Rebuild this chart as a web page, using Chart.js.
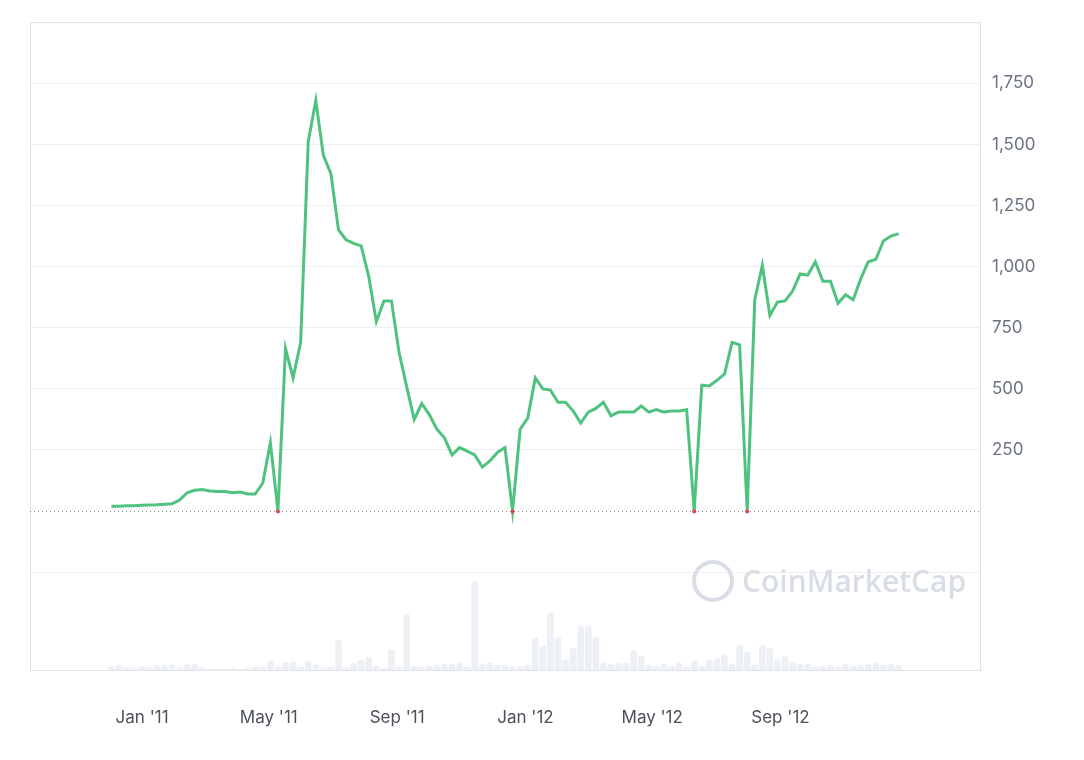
<!DOCTYPE html>
<html><head><meta charset="utf-8">
<script src="https://cdn.jsdelivr.net/npm/chart.js@4/dist/chart.umd.min.js"></script>
<style>html,body{margin:0;padding:0;background:#fff}#w{width:1084px;height:760px}</style>
</head><body><div id="w"><canvas id="c" width="1084" height="760"></canvas></div>
<script>
const prices=[20,20,22,22,24,25,26,28,30,45,75,85,88,82,80,80,75,78,70,70,115,280,0,665,545,690,1510,1680,1455,1380,1150,1110,1095,1085,960,775,860,860,650,510,375,440,395,335,300,230,260,245,230,180,205,240,260,0,335,380,545,500,495,445,445,410,360,405,420,445,390,405,405,405,430,405,415,405,410,410,415,0,515,512,535,560,690,680,0,865,1005,800,855,860,900,970,965,1020,940,940,850,885,865,950,1020,1030,1105,1125,1135];
const volumes=[4,5,2,2,4,2,5,5,5,2,6,6,2,1,1,1,2,1,2,3,3,9,3,8,8,3,9,5,2,3,30,2,7,10,13,4,2,20,3,56,4,3,4,5,6,6,7,3,89,6,7,5,5,3,4,5,32,24,57,33,10,22,44,44,33,7,6,7,7,20,14,5,4,6,4,7,3,9,4,10,12,15,6,25,18,5,25,22,10,14,8,6,6,3,4,5,3,6,4,5,6,7,5,6,5];
const xTickPos=[4.05,20.79,37.75,54.7,71.45,88.4];
const xTickLabels=["Jan '11","May '11","Sep '11","Jan '12","May '12","Sep '12"];
const yTicks=[250,500,750,1000,1250,1500,1750];

const priceData=prices.map((v,i)=>({x:i,y:v}));
const volData=volumes.map((v,i)=>({x:i,y:v}));
const extra={id:'extra',beforeDatasetsDraw(ch){const c=ch.ctx,a=ch.chartArea;
 c.save();c.strokeStyle='#dfe3e9';c.lineWidth=1;c.strokeRect(a.left+0.5,a.top+0.5,a.right-a.left,a.bottom-a.top);
 c.font='600 30px "Open Sans"';c.fillStyle='#d9dee6';c.textBaseline='middle';c.fillText('CoinMarketCap',742,583);
 c.lineWidth=4;c.strokeStyle='#d9dee6';c.beginPath();c.arc(713,581,19,0,Math.PI*2);c.stroke();
 c.restore();},
 afterDatasetsDraw(ch){const c=ch.ctx,y=ch.scales.y,a=ch.chartArea;const p=Math.round(y.getPixelForValue(0))+0.5;
 c.save();c.strokeStyle='#888';c.lineWidth=1;c.setLineDash([1,3]);c.beginPath();c.moveTo(a.left,p);c.lineTo(a.right,p);c.stroke();
 c.setLineDash([]);c.fillStyle='#e0454f';prices.forEach((v,i)=>{if(v===0){c.beginPath();c.arc(ch.scales.x.getPixelForValue(i),p,2,0,Math.PI*2);c.fill();}});c.restore();}};
new Chart(document.getElementById('c'),{
 data:{datasets:[
  {type:'line',data:priceData,yAxisID:'y',borderColor:'#4fc27f',borderWidth:3,pointRadius:0,tension:0,order:0},
  {type:'bar',data:volData,yAxisID:'v',backgroundColor:'#edf0f4',barThickness:6,borderRadius:{topLeft:3,topRight:3},borderSkipped:'bottom',order:1}
 ]},
 plugins:[extra],
 options:{responsive:false,animation:false,devicePixelRatio:1,
  layout:{padding:{top:20,left:30,right:0,bottom:0}},
  plugins:{legend:{display:false},tooltip:{enabled:false}},
  scales:{
   x:{type:'linear',min:-0.3,max:104.3,grid:{display:false},border:{display:false},
    afterBuildTicks(s){s.ticks=xTickPos.map(v=>({value:v}));},
    ticks:{autoSkip:false,maxRotation:0,padding:30,color:'#4a4f5a',font:{family:'Inter',size:17},callback:(v,i)=>xTickLabels[i]},
    afterFit(s){s.height=90;}},
   y:{position:'right',min:-650,max:2000,border:{display:false},
    afterBuildTicks(s){s.ticks=[-650,-250,0,...yTicks,2000].map(v=>({value:v}));},
    grid:{drawTicks:false,color:c=>(c.tick&&c.tick.value===0)?'rgba(0,0,0,0)':'#eceff3'},
    ticks:{padding:12,color:'#6b7280',font:{family:'Inter',size:17},callback:v=>yTicks.includes(v)?v.toLocaleString('en-US'):''},
    afterFit(s){s.width=104;}},
   v:{display:false,min:0,max:650}
  }}
});
</script></body></html>
